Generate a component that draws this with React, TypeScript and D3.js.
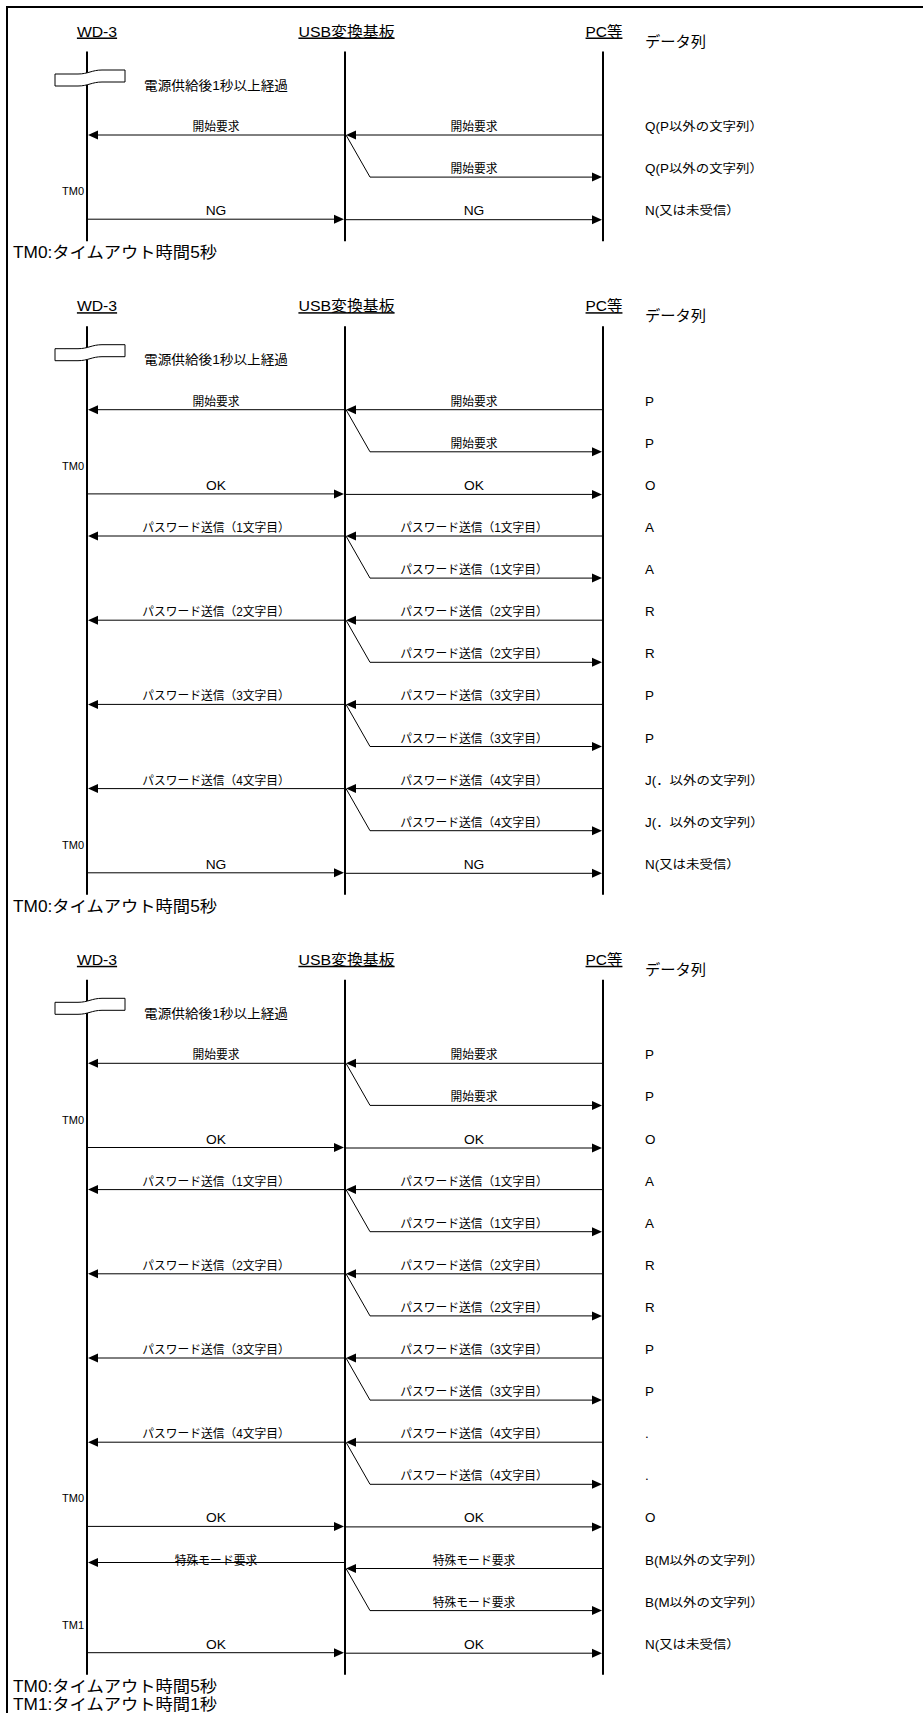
import React from "react";
import * as d3 from "d3";

// ---- data ----
const participants = ["WD-3", "USB変換基板", "PC等"];
const dataColumnTitle = "データ列";
const powerNote = "電源供給後1秒以上経過";

// section 1
const s1Kinds = ["down", "echo", "up"];
const s1Labels = ["開始要求", "開始要求", "NG"];
const s1Data = ["Q(P以外の文字列）", "Q(P以外の文字列）", "N(又は未受信）"];
const s1Timers = ["", "", "TM0"];
const s1Notes = ["TM0:タイムアウト時間5秒"];

// section 2
const s2Kinds = ["down", "echo", "up", "down", "echo", "down", "echo", "down", "echo", "down", "echo", "up"];
const s2Labels = [
  "開始要求", "開始要求", "OK",
  "パスワード送信（1文字目）", "パスワード送信（1文字目）",
  "パスワード送信（2文字目）", "パスワード送信（2文字目）",
  "パスワード送信（3文字目）", "パスワード送信（3文字目）",
  "パスワード送信（4文字目）", "パスワード送信（4文字目）",
  "NG",
];
const s2Data = ["P", "P", "O", "A", "A", "R", "R", "P", "P", "J(．以外の文字列）", "J(．以外の文字列）", "N(又は未受信）"];
const s2Timers = ["", "", "TM0", "", "", "", "", "", "", "", "", "TM0"];
const s2Notes = ["TM0:タイムアウト時間5秒"];

// section 3
const s3Kinds = ["down", "echo", "up", "down", "echo", "down", "echo", "down", "echo", "down", "echo", "up", "down", "echo", "up"];
const s3Labels = [
  "開始要求", "開始要求", "OK",
  "パスワード送信（1文字目）", "パスワード送信（1文字目）",
  "パスワード送信（2文字目）", "パスワード送信（2文字目）",
  "パスワード送信（3文字目）", "パスワード送信（3文字目）",
  "パスワード送信（4文字目）", "パスワード送信（4文字目）",
  "OK", "特殊モード要求", "特殊モード要求", "OK",
];
const s3Data = ["P", "P", "O", "A", "A", "R", "R", "P", "P", ".", ".", "O", "B(M以外の文字列）", "B(M以外の文字列）", "N(又は未受信）"];
const s3Timers = ["", "", "TM0", "", "", "", "", "", "", "", "", "TM0", "", "", "TM1"];
const s3Notes = ["TM0:タイムアウト時間5秒", "TM1:タイムアウト時間1秒"];

const sections = [
  { kinds: s1Kinds, labels: s1Labels, data: s1Data, timers: s1Timers, notes: s1Notes },
  { kinds: s2Kinds, labels: s2Labels, data: s2Data, timers: s2Timers, notes: s2Notes },
  { kinds: s3Kinds, labels: s3Labels, data: s3Data, timers: s3Timers, notes: s3Notes },
];

// ---- layout ----
const W = 923;
const H = 1713;
const FONT = "'Liberation Sans', 'Noto Sans CJK JP', sans-serif";
const ROW = 42.1;
const HEAD_TO_FIRST = 98.5;
const FOOT = 39;
const HEAD_GAP = 53;
const DATA_X = 645;

const x = d3.scalePoint<string>().domain(participants).range([87, 603]);

function Arrow({ tx, y, dir }: { tx: number; y: number; dir: number }) {
  const p = d3.path();
  p.moveTo(tx, y);
  p.lineTo(tx - dir * 10, y - 4.5);
  p.lineTo(tx - dir * 10, y + 4.5);
  p.closePath();
  return <path d={p.toString()} fill="#000" />;
}

const T = ({ x: tx, y, size, anchor = "start", children, deco, sx = 1 }: any) => (
  <text
    transform={`translate(${tx},${y}) scale(${sx},1)`}
    fontSize={size}
    textAnchor={anchor}
    fontFamily={FONT}
    fill="#000"
    style={{ textDecoration: deco ? "underline" : undefined }}
  >
    {children}
  </text>
);

export default function App() {
  const xw = x(participants[0])!;
  const xu = x(participants[1])!;
  const xp = x(participants[2])!;
  const midL = (xw + xu) / 2;
  const midR = (xu + xp) / 2;
  const LS = 12; // label size
  const LSX = 0.98;

  const els: any[] = [];
  let header = 36.5;
  sections.forEach((sec, si) => {
    const n = sec.kinds.length;
    const first = header + HEAD_TO_FIRST;
    const y = d3.scaleLinear().domain([0, n - 1]).range([first, first + (n - 1) * ROW]);
    const last = y(n - 1);
    const k = `s${si}`;
    // headers
    const hdrOffsets = [10, 1.5, 1];
    const hdrSx = [1.05, 1.06, 1.03];
    participants.forEach((p, i) => {
      els.push(
        <T key={`${k}h${i}`} x={x(p)! + hdrOffsets[i]} y={header} size={15} anchor="middle" deco sx={hdrSx[i]}>
          {p}
        </T>
      );
    });
    els.push(
      <T key={`${k}dh`} x={DATA_X} y={header + 10} size={15} sx={1.02}>
        {dataColumnTitle}
      </T>
    );
    // lifelines
    participants.forEach((p, i) => {
      els.push(
        <line key={`${k}ll${i}`} x1={x(p)} x2={x(p)} y1={header + 15} y2={last + 22} stroke="#000" strokeWidth={2} />
      );
    });
    // break symbol
    const bt = header + 33.5;
    const bp = d3.path();
    bp.moveTo(xw - 32, bt + 4);
    bp.lineTo(xw - 9, bt + 4);
    bp.bezierCurveTo(xw + 1, bt + 4, xw + 5, bt, xw + 15, bt);
    bp.lineTo(xw + 38, bt);
    bp.lineTo(xw + 38, bt + 12);
    bp.lineTo(xw + 15, bt + 12);
    bp.bezierCurveTo(xw + 5, bt + 12, xw + 1, bt + 16, xw - 9, bt + 16);
    bp.lineTo(xw - 32, bt + 16);
    bp.closePath();
    els.push(<path key={`${k}br`} d={bp.toString()} fill="#fff" stroke="#000" strokeWidth={1} />);
    els.push(
      <T key={`${k}pn`} x={xw + 57} y={header + 53} size={13} sx={1.05}>
        {powerNote}
      </T>
    );
    // rows
    sec.kinds.forEach((kind, i) => {
      const yy = y(i);
      const label = sec.labels[i];
      const rk = `${k}r${i}`;
      if (kind === "down") {
        const shift = label === "特殊モード要求" ? -6 : 0;
        els.push(<line key={`${rk}a`} x1={xp} x2={xu + 8} y1={yy} y2={yy} stroke="#000" strokeWidth={1} />);
        els.push(<Arrow key={`${rk}b`} tx={xu + 1} y={yy} dir={-1} />);
        els.push(<line key={`${rk}c`} x1={xu - 1} x2={xw + 8} y1={yy + shift} y2={yy + shift} stroke="#000" strokeWidth={1} />);
        els.push(<Arrow key={`${rk}d`} tx={xw + 1} y={yy + shift} dir={-1} />);
        els.push(<T key={`${rk}e`} x={midL} y={yy - 4} size={LS} anchor="middle" sx={LSX}>{label}</T>);
        els.push(<T key={`${rk}f`} x={midR} y={yy - 4} size={LS} anchor="middle" sx={LSX}>{label}</T>);
      } else if (kind === "echo") {
        const yp = y(i - 1);
        const lp = d3.path();
        lp.moveTo(xu + 1, yp);
        lp.lineTo(xu + 25, yy);
        lp.lineTo(xp - 8, yy);
        els.push(<path key={`${rk}a`} d={lp.toString()} fill="none" stroke="#000" strokeWidth={1} />);
        els.push(<Arrow key={`${rk}b`} tx={xp - 1} y={yy} dir={1} />);
        els.push(<T key={`${rk}f`} x={midR} y={yy - 4} size={LS} anchor="middle" sx={LSX}>{label}</T>);
      } else {
        els.push(<line key={`${rk}a`} x1={xw + 1} x2={xu - 8} y1={yy} y2={yy} stroke="#000" strokeWidth={1} />);
        els.push(<Arrow key={`${rk}b`} tx={xu - 1} y={yy} dir={1} />);
        els.push(<line key={`${rk}c`} x1={xu + 1} x2={xp - 8} y1={yy + 0.5} y2={yy + 0.5} stroke="#000" strokeWidth={1} />);
        els.push(<Arrow key={`${rk}d`} tx={xp - 1} y={yy + 0.5} dir={1} />);
        els.push(<T key={`${rk}e`} x={midL} y={yy - 4} size={LS} anchor="middle" sx={1.15}>{label}</T>);
        els.push(<T key={`${rk}f`} x={midR} y={yy - 4} size={LS} anchor="middle" sx={1.15}>{label}</T>);
      }
      if (sec.timers[i]) {
        els.push(<T key={`${rk}t`} x={xw - 3} y={yy - 24} size={11} anchor="end">{sec.timers[i]}</T>);
      }
      els.push(<T key={`${rk}g`} x={DATA_X} y={yy - 4} size={12} sx={1.12}>{sec.data[i]}</T>);
    });
    // notes
    sec.notes.forEach((nt, j) => {
      els.push(
        <T key={`${k}n${j}`} x={13} y={last + FOOT + j * 18} size={16} sx={1.08}>
          {nt}
        </T>
      );
    });
    header = last + FOOT + (sec.notes.length - 1) * 18 + HEAD_GAP;
  });

  return (
    <svg width={W} height={H} style={{ position: "absolute", left: 0, top: 0, background: "#fff" }}>
      <rect x={0} y={0} width={W} height={H} fill="#fff" />
      <line x1={7} x2={W} y1={7} y2={7} stroke="#000" strokeWidth={2} />
      <line x1={7} x2={7} y1={6} y2={H} stroke="#000" strokeWidth={2} />
      {els}
    </svg>
  );
}
